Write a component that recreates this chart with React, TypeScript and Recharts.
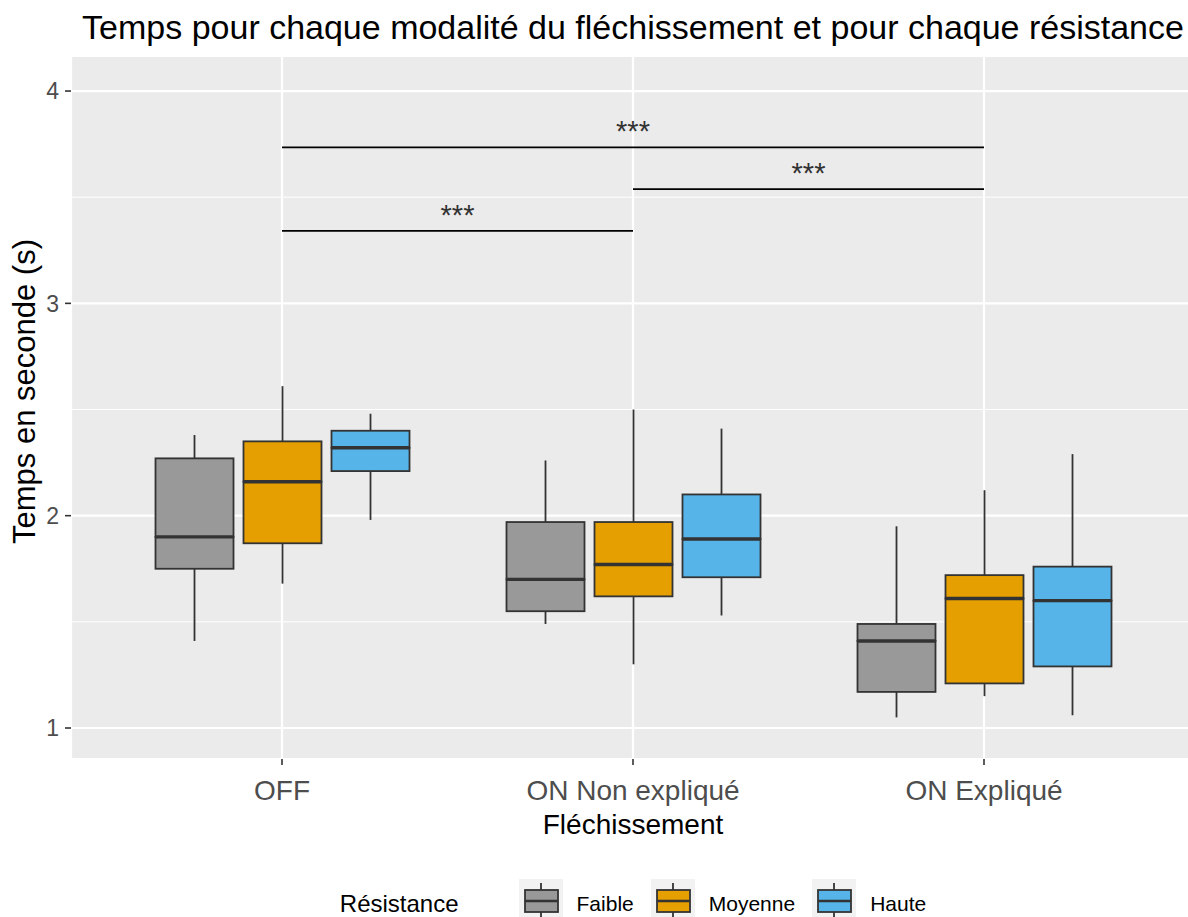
import { ComposedChart, Bar, XAxis, YAxis, CartesianGrid, ReferenceLine } from 'recharts';

const categories = ['OFF', 'ON Non expliqué', 'ON Expliqué'];

// box statistics per resistance level, one value per category
const faible = { min: [1.41, 1.49, 1.05], q1: [1.75, 1.55, 1.17], median: [1.90, 1.70, 1.41], q3: [2.27, 1.97, 1.49], max: [2.38, 2.26, 1.95] };
const moyenne = { min: [1.68, 1.30, 1.15], q1: [1.87, 1.62, 1.21], median: [2.16, 1.77, 1.61], q3: [2.35, 1.97, 1.72], max: [2.61, 2.50, 2.12] };
const haute = { min: [1.98, 1.53, 1.06], q1: [2.21, 1.71, 1.29], median: [2.32, 1.89, 1.60], q3: [2.40, 2.10, 1.76], max: [2.48, 2.41, 2.29] };

const series = [
    { key: 'Faible', stats: faible, color: '#999999' },
    { key: 'Moyenne', stats: moyenne, color: '#E69F00' },
    { key: 'Haute', stats: haute, color: '#56B4E9' },
];

const yTicks = [1, 2, 3, 4];
const yMinorTicks = [1.5, 2.5, 3.5];

const significance = [
    { from: 'OFF', to: 'ON Expliqué', y: 3.735, label: '***' },
    { from: 'ON Non expliqué', to: 'ON Expliqué', y: 3.538, label: '***' },
    { from: 'OFF', to: 'ON Non expliqué', y: 3.341, label: '***' },
];

const FONT = '"Liberation Sans", Arial, sans-serif';
const OUTLINE = '#333333';

const rows = categories.map((cat, i) => {
    const row: any = { cat };
    series.forEach(({ key, stats }) => {
        row[`${key}_base`] = stats.min[i];
        row[`${key}_lw`] = stats.q1[i] - stats.min[i];
        row[`${key}_lb`] = stats.median[i] - stats.q1[i];
        row[`${key}_ub`] = stats.q3[i] - stats.median[i];
        row[`${key}_uw`] = stats.max[i] - stats.q3[i];
    });
    return row;
});

const Empty = () => <g />;

const Whisker = (props: any) => {
    const { x, y, width, height } = props;
    const cx = x + width / 2;
    return <line x1={cx} x2={cx} y1={y} y2={y + height} stroke={OUTLINE} strokeWidth={1.8} />;
};

const LowerBox = (props: any) => {
    const { x, y, width, height, fill } = props;
    return <rect x={x} y={y} width={width} height={height} fill={fill} stroke={OUTLINE} strokeWidth={1.8} />;
};

const UpperBox = (props: any) => {
    const { x, y, width, height, fill } = props;
    return (
        <g>
            <rect x={x} y={y} width={width} height={height} fill={fill} stroke={OUTLINE} strokeWidth={1.8} />
            <line x1={x} x2={x + width} y1={y + height} y2={y + height} stroke={OUTLINE} strokeWidth={3.4} />
        </g>
    );
};

const YTitle = (props: any) => {
    const vb = props.viewBox;
    const cx = 24;
    const cy = vb.y + vb.height / 2 - 16;
    return (
        <text x={cx} y={cy} transform={`rotate(-90, ${cx}, ${cy})`} textAnchor="middle" dominantBaseline="central"
            fontSize={31} fontFamily={FONT} fill="#000">
            Temps en seconde (s)
        </text>
    );
};

const LegendKey = ({ color }: { color: string }) => (
    <svg width={44} height={44} style={{ display: 'block' }}>
        <rect x={0} y={0} width={44} height={44} fill="#f2f2f2" />
        <line x1={22} x2={22} y1={4} y2={44} stroke={OUTLINE} strokeWidth={1.8} />
        <rect x={6} y={11} width={33} height={22} fill={color} stroke={OUTLINE} strokeWidth={1.8} />
        <line x1={6} x2={39} y1={22} y2={22} stroke={OUTLINE} strokeWidth={2.6} />
    </svg>
);

const App = () => {
    return (
        <div style={{ position: 'absolute', left: 0, top: 0, width: 1188, height: 917, overflow: 'hidden', background: '#fff', fontFamily: FONT }}>
            <div style={{ position: 'absolute', left: 71, top: 8, width: 1124, textAlign: 'center', fontSize: 34, lineHeight: '38px', color: '#000', whiteSpace: 'nowrap' }}>
                Temps pour chaque modalité du fléchissement et pour chaque résistance
            </div>
            <ComposedChart
                width={1200}
                height={917}
                data={rows}
                margin={{ top: 56, right: 5, bottom: 78, left: 0 }}
                barSize={78}
                barGap={10}
            >
                <CartesianGrid fill="#ebebeb" stroke="#ffffff" strokeWidth={1} vertical={false} horizontalValues={yMinorTicks} />
                <CartesianGrid fill="none" stroke="#ffffff" strokeWidth={2.2} />
                <XAxis
                    dataKey="cat"
                    type="category"
                    padding={{ left: 35.5, right: 35.5 }}
                    axisLine={false}
                    tickLine={{ stroke: OUTLINE, strokeWidth: 1.6 }}
                    tickSize={6}
                    tickMargin={15}
                    height={80}
                    tick={{ fill: '#4d4d4d', fontSize: 28, fontFamily: FONT }}
                    label={{ value: 'Fléchissement', position: 'insideBottom', offset: 5, fill: '#000', fontSize: 28, fontFamily: FONT }}
                />
                <YAxis
                    type="number"
                    domain={[0.854, 4.165]}
                    allowDataOverflow
                    ticks={yTicks}
                    width={71}
                    axisLine={false}
                    tickLine={{ stroke: OUTLINE, strokeWidth: 1.6 }}
                    tickSize={6}
                    tickMargin={6}
                    tick={{ fill: '#4d4d4d', fontSize: 23, fontFamily: FONT }}
                    label={(p: any) => <YTitle {...p} />}
                />
                {series.flatMap(({ key, color }) => [
                    <Bar key={`${key}_base`} dataKey={`${key}_base`} stackId={key} fill="transparent" shape={<Empty />} isAnimationActive={false} />,
                    <Bar key={`${key}_lw`} dataKey={`${key}_lw`} stackId={key} fill={color} shape={<Whisker />} isAnimationActive={false} />,
                    <Bar key={`${key}_lb`} dataKey={`${key}_lb`} stackId={key} fill={color} shape={<LowerBox />} isAnimationActive={false} />,
                    <Bar key={`${key}_ub`} dataKey={`${key}_ub`} stackId={key} fill={color} shape={<UpperBox />} isAnimationActive={false} />,
                    <Bar key={`${key}_uw`} dataKey={`${key}_uw`} stackId={key} fill={color} shape={<Whisker />} isAnimationActive={false} />,
                ])}
                {significance.map((s, i) => (
                    <ReferenceLine
                        key={`sig-${i}`}
                        segment={[{ x: s.from, y: s.y }, { x: s.to, y: s.y }]}
                        stroke="#000"
                        strokeWidth={1.8}
                        ifOverflow="visible"
                        label={{ value: s.label, position: 'top', offset: 6, fontSize: 29, fill: '#333', fontFamily: FONT }}
                    />
                ))}
            </ComposedChart>
            <div style={{ position: 'absolute', left: 71, top: 879, width: 1124, display: 'flex', justifyContent: 'center', alignItems: 'flex-start' }}>
                <span style={{ fontSize: 24, lineHeight: '40px', marginTop: 5, marginRight: 60, color: '#000' }}>Résistance</span>
                {series.map(({ key, color }, i) => (
                    <div key={key} style={{ display: 'flex', alignItems: 'flex-start', marginLeft: i === 0 ? 0 : 17 }}>
                        <LegendKey color={color} />
                        <span style={{ fontSize: 21, lineHeight: '40px', marginTop: 5, marginLeft: 14, color: '#000' }}>{key}</span>
                    </div>
                ))}
            </div>
        </div>
    );
};

export default App;
